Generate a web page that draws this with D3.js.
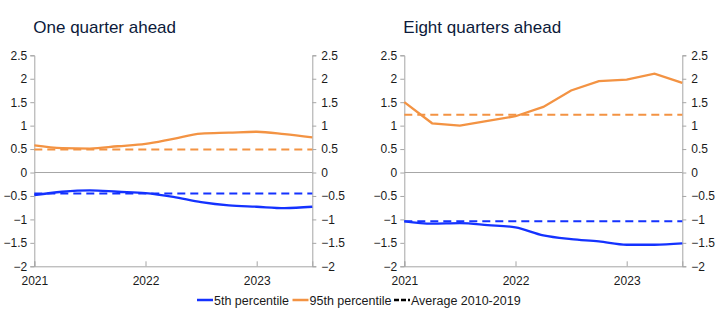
<!DOCTYPE html>
<html>
<head>
<meta charset="utf-8">
<script src="https://cdn.jsdelivr.net/npm/d3@7"></script>
<style>
  body { margin: 0; background: #fff; }
  svg { font-family: "Liberation Sans", Arial, sans-serif; }
</style>
</head>
<body>
<div id="chart"></div>
<script>
// quarters 2021Q1 .. 2023Q3 (decimal years)
const quarters = [2021, 2021.25, 2021.5, 2021.75, 2022, 2022.25, 2022.5, 2022.75, 2023, 2023.25, 2023.5]
const yearTicks = [2021, 2022, 2023]
const yTicks = [-2, -1.5, -1, -0.5, 0, 0.5, 1, 1.5, 2, 2.5]

// One quarter ahead
const oneQ_p5  = [-0.48, -0.41, -0.38, -0.41, -0.44, -0.52, -0.63, -0.70, -0.73, -0.76, -0.73]
const oneQ_p95 = [0.58, 0.52, 0.51, 0.56, 0.61, 0.72, 0.83, 0.85, 0.87, 0.82, 0.75]
const oneQ_avg5 = -0.45, oneQ_avg95 = 0.49

// Eight quarters ahead
const eightQ_p5  = [-1.04, -1.09, -1.08, -1.12, -1.17, -1.34, -1.42, -1.47, -1.54, -1.54, -1.51]
const eightQ_p95 = [1.50, 1.05, 1.00, 1.10, 1.20, 1.40, 1.75, 1.95, 1.98, 2.11, 1.91]
const eightQ_avg5 = -1.04, eightQ_avg95 = 1.23

const BLUE = "#1432ff", ORANGE = "#f39343", GRID = "#a6a6a6", TXT = "#1a1a1a"

const WD = 722, HT = 332
const svg = d3.select("#chart").append("svg").attr("width", WD).attr("height", HT)

const panels = [
  { title: "One quarter ahead", left: 34.3, p5: oneQ_p5, p95: oneQ_p95, a5: oneQ_avg5, a95: oneQ_avg95, curve95: d3.curveMonotoneX },
  { title: "Eight quarters ahead", left: 404.3, p5: eightQ_p5, p95: eightQ_p95, a5: eightQ_avg5, a95: eightQ_avg95, curve95: d3.curveLinear }
]
const pw = 278, plotTop = 55.3, plotBottom = 266.3

const ys = d3.scaleLinear().domain([-2, 2.5]).range([plotBottom, plotTop])

panels.forEach(p => {
  const xs = d3.scaleLinear().domain([2021, 2023.5]).range([p.left, p.left + pw])
  const g = svg.append("g")

  g.append("text")
    .attr("x", p.left - 1).attr("y", 33)
    .attr("font-size", "17px").attr("fill", "#0c1a3a")
    .text(p.title)

  // zero line
  g.append("line")
    .attr("x1", p.left).attr("x2", p.left + pw)
    .attr("y1", ys(0)).attr("y2", ys(0))
    .attr("stroke", GRID).attr("stroke-width", 1)

  const fmt = d => d3.format("")(d).replace("-", "\u2212")
  // left axis
  const la = g.append("g").attr("transform", "translate(" + p.left + ",0)")
    .call(d3.axisLeft(ys).tickValues(yTicks).tickSize(4).tickPadding(3).tickFormat(fmt))
  // right axis
  const ra = g.append("g").attr("transform", "translate(" + (p.left + pw) + ",0)")
    .call(d3.axisRight(ys).tickValues(yTicks).tickSize(4).tickPadding(5).tickFormat(fmt))
  // bottom axis
  const ba = g.append("g").attr("transform", "translate(0," + plotBottom + ")")
    .call(d3.axisBottom(xs).tickValues(yearTicks).tickSize(-5).tickPadding(8).tickFormat(d3.format("d")))

  ;[la, ra, ba].forEach(a => {
    a.select(".domain").attr("stroke", GRID)
    a.selectAll(".tick line").attr("stroke", GRID)
    a.selectAll(".tick text").attr("font-size", "12px").attr("fill", TXT)
      .attr("font-family", "Liberation Sans, Arial, sans-serif")
  })
  ba.selectAll(".tick text").attr("dy", "0.9em")

  const line5 = d3.line().x((d, i) => xs(quarters[i])).y(d => ys(d)).curve(d3.curveMonotoneX)
  const line95 = d3.line().x((d, i) => xs(quarters[i])).y(d => ys(d)).curve(p.curve95)

  // averages
  g.append("line")
    .attr("x1", p.left).attr("x2", p.left + pw)
    .attr("y1", ys(p.a95)).attr("y2", ys(p.a95))
    .attr("stroke", ORANGE).attr("stroke-width", 2).attr("stroke-dasharray", "8,5")
  g.append("line")
    .attr("x1", p.left).attr("x2", p.left + pw)
    .attr("y1", ys(p.a5)).attr("y2", ys(p.a5))
    .attr("stroke", BLUE).attr("stroke-width", 2).attr("stroke-dasharray", "8,5")

  g.append("path").datum(p.p95)
    .attr("d", line95).attr("fill", "none").attr("stroke", ORANGE).attr("stroke-width", 2.3)
  g.append("path").datum(p.p5)
    .attr("d", line5).attr("fill", "none").attr("stroke", BLUE).attr("stroke-width", 2.3)
})

// legend
const legend = [
  { label: "5th percentile", color: BLUE, dash: null, x: 197 },
  { label: "95th percentile", color: ORANGE, dash: null, x: 292.5 },
  { label: "Average 2010-2019", color: "#000", dash: "5,2", x: 394 }
]
const lg = svg.append("g")
legend.forEach(l => {
  lg.append("line")
    .attr("x1", l.x).attr("x2", l.x + 16)
    .attr("y1", 300).attr("y2", 300)
    .attr("stroke", l.color).attr("stroke-width", 2.5)
    .attr("stroke-dasharray", l.dash)
  lg.append("text")
    .attr("x", l.x + 17).attr("y", 304.5)
    .attr("font-size", "12.5px").attr("fill", TXT)
    .text(l.label)
})
</script>
</body>
</html>
